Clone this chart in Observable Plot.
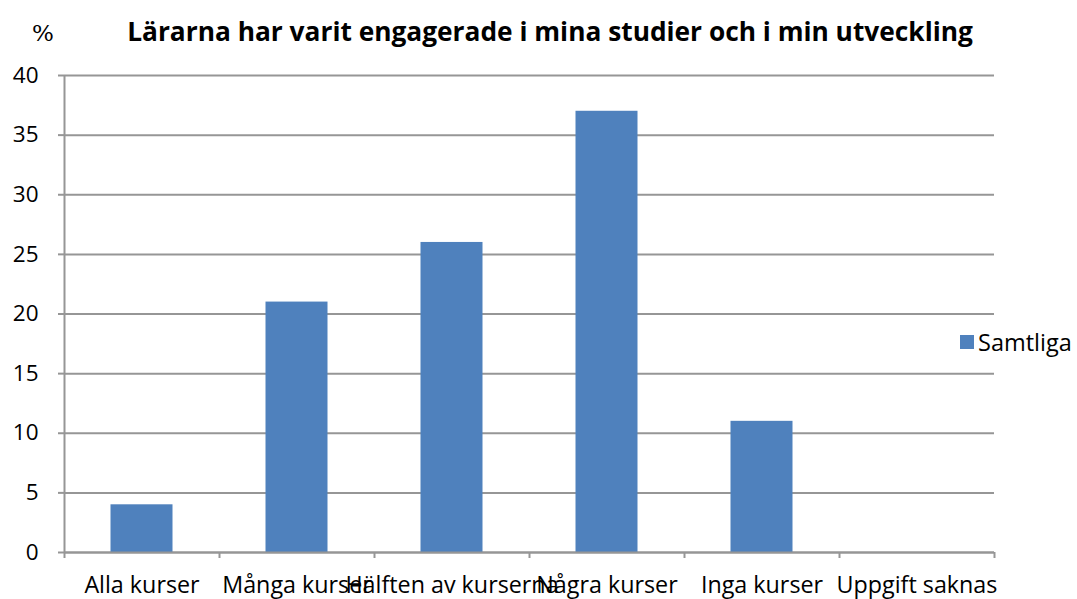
<!DOCTYPE html>
<html>
<head>
<meta charset="utf-8">
<script src="https://cdn.jsdelivr.net/npm/d3@7"></script>
<script src="https://cdn.jsdelivr.net/npm/@observablehq/plot@0.6"></script>
<style>
  html, body { margin: 0; padding: 0; background: #fff; }
  #wrap { position: relative; width: 1077px; height: 599px; font-family: "Open Sans", sans-serif; color: #000; }
  #title { position: absolute; left: 0; width: 1100px; top: 16px; text-align: center; font-weight: bold; font-size: 26.3px; line-height: 1.2; white-space: nowrap; }
  #pct { position: absolute; left: 32px; top: 20px; font-size: 23px; line-height: 1.2; font-family: "DejaVu Serif", serif; }
  #legend { position: absolute; left: 960px; top: 328px; font-size: 23.5px; line-height: 1.2; display: flex; align-items: center; }
  #legend .sw { width: 14px; height: 14px; background: #4f81bd; margin-right: 4px; }
  #chart svg { position: absolute; left: 0; top: 0; }
</style>
</head>
<body>
<div id="wrap">
  <div id="chart"></div>
  <div id="pct">%</div>
  <div id="title">Lärarna har varit engagerade i mina studier och i min utveckling</div>
  <div id="legend"><div class="sw"></div><span id="seriesName"></span></div>
</div>
<script>
const categories = ["Alla kurser", "Många kurser", "Hälften av kurserna", "Några kurser", "Inga kurser", "Uppgift saknas"];
const values = [4, 21, 26, 37, 11, 0];
const seriesName = "Samtliga";
const yTicks = [0, 5, 10, 15, 20, 25, 30, 35, 40];

document.getElementById("seriesName").textContent = seriesName;

const data = categories.map((c, i) => ({category: c, index: i, value: values[i]}));
const grey = "#969696";

const chart = Plot.plot({
  width: 1077,
  height: 599,
  marginLeft: 64,
  marginRight: 83,
  marginTop: 75,
  marginBottom: 47,
  style: {fontFamily: "'Open Sans', sans-serif", fontSize: "22px", color: "#000", background: "transparent", overflow: "visible"},
  x: {type: "linear", domain: [0, categories.length]},
  y: {domain: [0, 40]},
  marks: [
    Plot.gridY(yTicks, {stroke: grey, strokeOpacity: 1, strokeWidth: 2}),
    Plot.axisY(yTicks, {label: null, tickSize: 6, tickPadding: 20, stroke: grey, strokeWidth: 2, tickFormat: d => d, fontSize: 22.5, fill: "#000"}),
    Plot.rectY(data, {x1: d => d.index + 0.3, x2: d => d.index + 0.7, y: "value", fill: "#4f81bd"}),
    Plot.ruleX([0], {stroke: grey, strokeWidth: 2}),
    Plot.ruleY([0], {stroke: grey, strokeWidth: 2}),
    Plot.axisX(d3.range(categories.length + 1), {label: null, tickSize: 6, tickFormat: () => "", stroke: grey, strokeWidth: 2}),
    Plot.axisX(data.map(d => d.index + 0.5), {label: null, tickSize: 0, tickPadding: 24, tickFormat: v => categories[Math.floor(v)], fontSize: 23.3, fill: "#000"})
  ]
});
document.getElementById("chart").appendChild(chart);
</script>
</body>
</html>
